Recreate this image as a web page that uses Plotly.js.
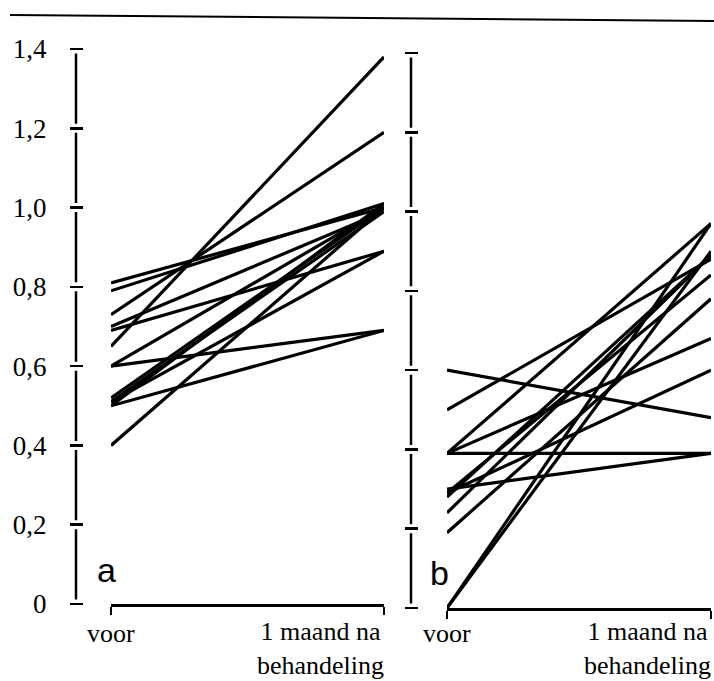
<!DOCTYPE html>
<html>
<head>
<meta charset="utf-8">
<script src="https://cdn.plot.ly/plotly-3.0.1.min.js"></script>
<style>html,body{margin:0;padding:0;background:#fff;}#chart{width:714px;height:681px;}</style>
</head>
<body>
<div id="chart"></div>
<script>
// ---- data ----
const xCats = ['voor', '1 maand na<br>behandeling'];
const yTickVals = [0, 0.2, 0.4, 0.6, 0.8, 1.0, 1.2, 1.4];
const yTickText = ['0', '0,2', '0,4', '0,6', '0,8', '1,0', '1,2', '1,4'];
// panel a
const aVoor = [0.81, 0.79, 0.73, 0.70, 0.69, 0.65, 0.60, 0.60, 0.52, 0.51, 0.51, 0.50, 0.50, 0.40];
const aNa   = [1.00, 1.01, 1.19, 0.99, 0.89, 1.38, 0.69, 1.00, 1.00, 0.99, 0.89, 0.69, 1.01, 1.00];
// panel b
const bVoor = [0.60, 0.50, 0.39, 0.39, 0.39, 0.30, 0.29, 0.29, 0.28, 0.24, 0.19, 0.00, 0.00];
const bNa   = [0.48, 0.88, 0.39, 0.97, 0.68, 0.39, 0.60, 0.84, 0.89, 0.89, 0.78, 0.97, 0.90];
const panelLabels = ['a', 'b'];

// ---- layout helpers ----
const W = 714, H = 681;
const px = v => v / W;
const py = v => 1 - v / H;
const serif = '"Liberation Serif", "Times New Roman", serif';
const sans = '"Liberation Sans", Arial, sans-serif';

const traces = [];
aVoor.forEach((v, i) => traces.push({
  type: 'scatter', mode: 'lines', x: xCats, y: [v, aNa[i]],
  xaxis: 'x', yaxis: 'y', line: {color: '#000', width: 3.2}, showlegend: false, hoverinfo: 'skip'
}));
bVoor.forEach((v, i) => traces.push({
  type: 'scatter', mode: 'lines', x: xCats, y: [v, bNa[i]],
  xaxis: 'x2', yaxis: 'y2', line: {color: '#000', width: 3.2}, showlegend: false, hoverinfo: 'skip'
}));

const domA = [py(604), py(49)];
const domB = [py(608), py(53)];

function yAxis(dom, pos, labels) {
  return {
    domain: dom, range: [0, 1.4], anchor: 'free', position: pos,
    showline: false, showgrid: false, zeroline: false,
    tickmode: 'array', tickvals: yTickVals, ticktext: yTickText,
    ticks: 'outside', ticklen: 13, tickwidth: 2.5, tickcolor: '#000',
    showticklabels: labels, ticklabelstandoff: 18,
    tickfont: {family: serif, size: 27, color: '#000'}
  };
}
function xAxis(dom, anchor) {
  return {
    domain: dom, anchor: anchor, type: 'category', range: [0, 1],
    showline: true, linecolor: '#000', linewidth: 2.5,
    showgrid: false, zeroline: false,
    ticks: 'outside', ticklen: 8, tickwidth: 2, tickcolor: '#000',
    showticklabels: false
  };
}

// dashed y-axis lines with gaps around each tick
function axisLine(xPx, dom, yref) {
  const pxPerUnit = (dom[1] - dom[0]) * H / 1.4;
  const period = 0.2 * pxPerUnit;
  const gap = 9;
  const off = (gap / 2) / pxPerUnit;
  return {
    type: 'line', xref: 'paper', yref: yref,
    x0: px(xPx), x1: px(xPx), y0: off, y1: 1.4 - off,
    line: {color: '#000', width: 2.5, dash: (period - gap).toFixed(2) + 'px,' + gap + 'px'}
  };
}

const annotations = [];
[['x', 'y'], ['x2', 'y2']].forEach(([xa, ya], p) => {
  annotations.push({
    xref: xa, yref: 'paper', x: xCats[0], y: py(617), yanchor: 'top', xanchor: 'center',
    text: xCats[0], showarrow: false, font: {family: serif, size: 26, color: '#000'}
  });
  annotations.push({
    xref: xa, yref: 'paper', x: xCats[1], y: py(615), yanchor: 'top', xanchor: 'right', xshift: 2,
    text: xCats[1], showarrow: false, align: 'center', font: {family: serif, size: 26, color: '#000'}
  });
});
annotations.push({xref: 'paper', yref: 'paper', x: px(106), y: py(570), xanchor: 'center', yanchor: 'middle',
  text: panelLabels[0], showarrow: false, font: {family: sans, size: 34, color: '#000'}});
annotations.push({xref: 'paper', yref: 'paper', x: px(439), y: py(573), xanchor: 'center', yanchor: 'middle',
  text: panelLabels[1], showarrow: false, font: {family: sans, size: 34, color: '#000'}});

const layout = {
  width: W, height: H,
  margin: {l: 0, r: 0, t: 0, b: 0},
  paper_bgcolor: '#fff', plot_bgcolor: 'rgba(0,0,0,0)',
  showlegend: false,
  separators: ',.',
  xaxis: xAxis([px(111), px(384)], 'y'),
  yaxis: yAxis(domA, px(83), true),
  xaxis2: xAxis([px(447), px(711)], 'y2'),
  yaxis2: yAxis(domB, px(418), false),
  shapes: [
    {type: 'line', xref: 'paper', yref: 'paper', x0: px(10), x1: 1, y0: py(15), y1: py(21),
     line: {color: '#000', width: 2}},
    axisLine(76, domA, 'y'),
    axisLine(411, domB, 'y2')
  ],
  annotations: annotations
};

Plotly.newPlot('chart', traces, layout, {staticPlot: true, displayModeBar: false});
</script>
</body>
</html>
